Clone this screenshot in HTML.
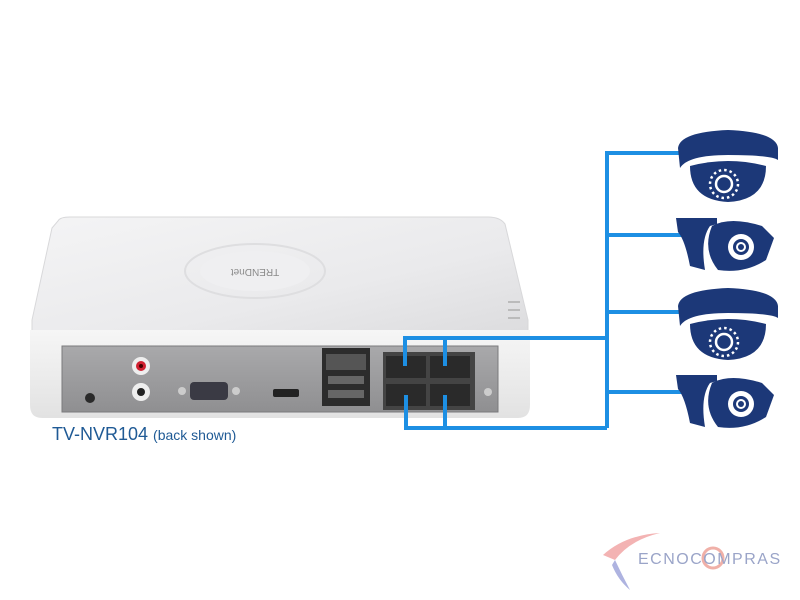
<!DOCTYPE html>
<html><head><meta charset="utf-8"><style>
html,body{margin:0;padding:0;background:#fff;}
svg{display:block;}
</style></head><body>
<svg width="800" height="600" viewBox="0 0 800 600" xmlns="http://www.w3.org/2000/svg">
<defs>
<linearGradient id="top" x1="0" y1="0" x2="1" y2="1">
<stop offset="0" stop-color="#f4f4f5"/><stop offset="0.6" stop-color="#eaeaec"/><stop offset="1" stop-color="#dcdcde"/>
</linearGradient>
<linearGradient id="front" x1="0" y1="0" x2="0" y2="1">
<stop offset="0" stop-color="#f6f6f6"/><stop offset="1" stop-color="#e2e2e2"/>
</linearGradient>
<linearGradient id="panel" x1="0" y1="0" x2="0" y2="1">
<stop offset="0" stop-color="#a9a9ab"/><stop offset="1" stop-color="#8f8f91"/>
</linearGradient>
</defs>
<path d="M58 221 Q60 217 70 217 L488 217 Q500 217 505 224 L528 320 L528 335 L32 335 L32 320 L52 228 Z" fill="url(#top)" stroke="#d8d8da"/>
<ellipse cx="255" cy="271" rx="70" ry="27" fill="none" stroke="#dedee0" stroke-width="2"/>
<ellipse cx="255" cy="271" rx="55" ry="20" fill="#efeff1"/>
<text x="255" y="275" font-family="Liberation Sans, sans-serif" font-size="10" fill="#8a8a8a" text-anchor="middle" transform="rotate(180 255 272)">TRENDnet</text>
<line x1="508" y1="302" x2="520" y2="302" stroke="#bbb" stroke-width="2"/>
<line x1="508" y1="310" x2="520" y2="310" stroke="#bbb" stroke-width="2"/>
<line x1="508" y1="318" x2="520" y2="318" stroke="#bbb" stroke-width="2"/>
<path d="M30 330 L530 330 L530 405 Q530 418 518 418 L42 418 Q30 418 30 405 Z" fill="url(#front)"/>
<rect x="62" y="346" width="436" height="66" fill="url(#panel)" stroke="#7a7a7c"/>
<circle cx="90" cy="398" r="5" fill="#2a2a2a"/>
<circle cx="141" cy="366" r="9" fill="#eee"/><circle cx="141" cy="366" r="5" fill="#d02030"/><circle cx="141" cy="366" r="2" fill="#400"/>
<circle cx="141" cy="392" r="9" fill="#eee"/><circle cx="141" cy="392" r="4" fill="#222"/>
<rect x="190" y="382" width="38" height="18" rx="4" fill="#3a3a44"/>
<circle cx="182" cy="391" r="4" fill="#ccc"/><circle cx="236" cy="391" r="4" fill="#ccc"/>
<rect x="273" y="389" width="26" height="8" rx="2" fill="#222"/>
<rect x="322" y="348" width="48" height="58" fill="#2c2c2c"/>
<rect x="326" y="354" width="40" height="16" fill="#555"/>
<rect x="328" y="376" width="36" height="8" fill="#666"/>
<rect x="328" y="390" width="36" height="8" fill="#666"/>
<rect x="383" y="352" width="92" height="58" fill="#444"/>
<rect x="386" y="356" width="40" height="22" fill="#2a2a2a"/><rect x="430" y="356" width="40" height="22" fill="#2a2a2a"/>
<rect x="386" y="384" width="40" height="22" fill="#2a2a2a"/><rect x="430" y="384" width="40" height="22" fill="#2a2a2a"/>
<circle cx="488" cy="392" r="4" fill="#ccc"/>
<text x="52" y="440" font-family="Liberation Sans, sans-serif" font-size="18" fill="#1f5a95">TV-NVR104 <tspan font-size="14">(back shown)</tspan></text>
<g stroke="#1d8fe3" stroke-width="4" fill="none">
<path d="M405 366 L405 338 L607 338"/>
<path d="M445 366 L445 338"/>
<path d="M406 395 L406 428 L607 428"/>
<path d="M445 395 L445 428"/>
<path d="M607 428 L607 153 L685 153"/>
<path d="M607 235 L685 235"/>
<path d="M607 312 L685 312"/>
<path d="M607 392 L685 392"/>
</g>
<g fill="#1c3878">
<g id="dome">
<path d="M678 148 Q680 132 728 130 Q776 132 778 148 L778 160 Q770 155 728 155 Q688 155 680 168 Z"/>
<path d="M690 166 Q728 156 766 166 Q766 200 728 202 Q690 200 690 166 Z"/>
<circle cx="724" cy="184" r="8" fill="none" stroke="#fff" stroke-width="2.5"/>
<circle cx="724" cy="184" r="14" fill="none" stroke="#fff" stroke-width="2.5" stroke-dasharray="2.5 3"/>
</g>
<use href="#dome" transform="translate(0 158)"/>
<g id="bullet">
<path d="M676 218 L717 218 L717 224 L710 226 Q700 240 705 270 L690 266 Q685 240 678 232 Z"/>
<path d="M712 226 Q730 216 762 226 L774 238 L766 260 Q744 274 718 270 Q702 250 712 226 Z"/>
<circle cx="741" cy="247" r="13" fill="#fff"/>
<circle cx="741" cy="247" r="8" fill="#1c3878"/>
<circle cx="741" cy="247" r="5" fill="#fff"/>
<circle cx="741" cy="247" r="3" fill="#1c3878"/>
</g>
<use href="#bullet" transform="translate(0 157)"/>
</g>
<path d="M603 555 Q625 535 660 533 Q630 540 615 560 Z" fill="#f0a0a0" opacity="0.8"/>
<path d="M615 560 Q622 575 630 590 Q618 580 612 565 Z" fill="#9aa0d8" opacity="0.8"/>
<circle cx="713" cy="558" r="10" fill="none" stroke="#f0b0a8" stroke-width="3"/>
<text x="638" y="564" font-family="Liberation Sans, sans-serif" font-size="16" fill="#9aa4c8" letter-spacing="1.5">ECNOCOMPRAS</text>
</svg>
</body></html>
